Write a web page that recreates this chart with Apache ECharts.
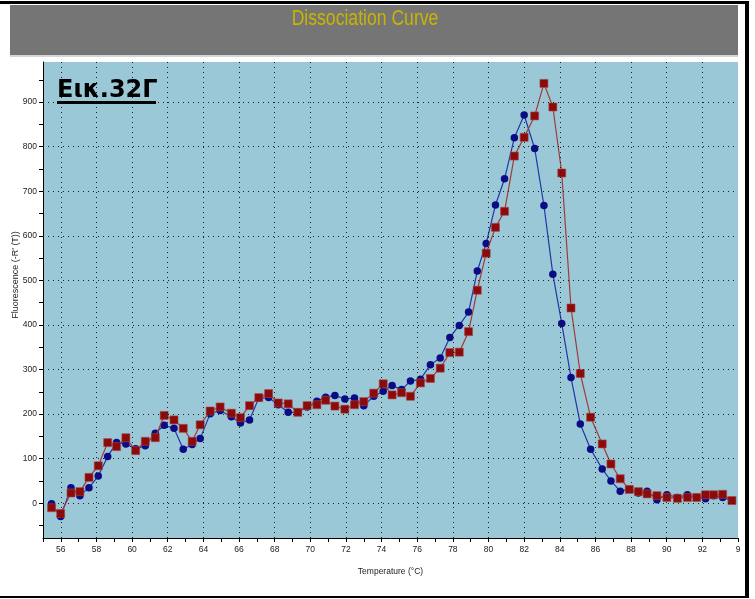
<!DOCTYPE html>
<html>
<head>
<meta charset="utf-8">
<script src="https://cdn.jsdelivr.net/npm/echarts@6/dist/echarts.min.js"></script>
<style>
html,body{margin:0;padding:0;background:#fff;}
#c{width:755px;height:599px;}
</style>
</head>
<body>
<div id="c"></div>
<script>
const temps = [55.48,55.99,56.57,57.07,57.58,58.10,58.63,59.13,59.65,60.20,
  60.74,61.30,61.80,62.35,62.87,63.37,63.82,64.38,64.94,65.57,
  66.08,66.59,67.11,67.66,68.20,68.76,69.30,69.82,70.37,70.86,
  71.38,71.94,72.48,73.00,73.56,74.09,74.59,75.12,75.62,76.18,
  76.74,77.29,77.83,78.36,78.88,79.37,79.87,80.39,80.90,81.45,
  82.00,82.59,83.11,83.61,84.11,84.63,85.15,85.73,86.38,86.87,
  87.39,87.90,88.41,88.90,89.45,90.01,90.60,91.16,91.68,92.18,
  92.63,93.14,93.66];
// Blue series (circles)
const blueValues = [-1,-30,35,17,35,61,105,136,133,122,
  129,157,175,168,121,132,145,201,208,194,
  180,187,236,237,221,204,204,216,229,238,
  242,234,236,219,240,251,264,255,274,278,
  311,326,372,399,429,521,583,669,728,820,
  871,796,668,514,403,282,178,121,77,50,
  27,31,23,27,8,19,13,19,13,10,
  17,13,6];
// Red series (squares)
const redValues = [-10,-23,23,26,58,84,136,127,147,118,
  139,147,197,187,168,139,176,207,216,202,
  192,219,237,246,225,223,204,219,221,231,
  218,211,221,228,247,268,243,248,240,270,
  280,303,338,339,385,478,561,619,655,779,
  821,869,942,889,741,438,291,193,133,88,
  55,31,26,21,17,13,11,13,13,19,
  19,20,6];
const xTickLabels = [56,58,60,62,64,66,68,70,72,74,76,78,80,82,84,86,88,90,92,94];
const xMinorTicks = [55,56,57,58,59,60,61,62,63,64,65,66,67,68,69,70,71,72,73,74,75,76,77,78,79,80,81,82,83,84,85,86,87,88,89,90,91,92,93,94];
const xGridValues = [56,58,60,62,64,66,68,70,72,74,76,78,80,82,84,86,88,90,92];
const yTickLabels = [0,100,200,300,400,500,600,700,800,900];
const yMinorTicks = [-50,0,50,100,150,200,250,300,350,400,450,500,550,600,650,700,750,800,850,900,950];
const titleText = 'Dissociation Curve';
const figLabel = 'Εικ.32Γ';
const xName = 'Temperature (°C)';
const yName = "Fluorescence (-R' (T))";

const blueData = temps.map((t,i)=>[t, blueValues[i]]);
const redData = temps.map((t,i)=>[t, redValues[i]]);
const gridLines = xGridValues.map(v=>({xAxis:v})).concat(yTickLabels.map(v=>({yAxis:v})));

const FONT = "'Liberation Sans',Arial,sans-serif";
const chart = echarts.init(document.getElementById('c'), null, {renderer:'canvas'});
chart.setOption({
  animation:false,
  backgroundColor:'#ffffff',
  grid:{left:43, top:62, width:695, height:476, show:true, backgroundColor:'#9bc8d7', borderWidth:0, outerBoundsMode:'none'},
  xAxis:{
    type:'value', min:55, max:94,
    axisLine:{show:true, onZero:false, lineStyle:{color:'#000', width:1}},
    axisTick:{show:true, customValues:xMinorTicks, length:4, lineStyle:{color:'#000'}},
    axisLabel:{customValues:xTickLabels, color:'#222', fontFamily:FONT, fontSize:8.5, margin:7,
      formatter:v=> v===94 ? '9' : String(v)},
    splitLine:{show:false},
    name:xName, nameLocation:'middle', nameGap:29,
    nameTextStyle:{color:'#222', fontFamily:FONT, fontSize:8.5}
  },
  yAxis:{
    type:'value', min:-78, max:990,
    axisLine:{show:true, onZero:false, lineStyle:{color:'#000', width:1}},
    axisTick:{show:true, customValues:yMinorTicks, length:4, lineStyle:{color:'#000'}},
    axisLabel:{customValues:yTickLabels, color:'#222', fontFamily:FONT, fontSize:8.5, margin:6},
    splitLine:{show:false}
  },
  series:[{
    type:'line', data:[], z:1, silent:true,
    markLine:{silent:true, symbol:['none','none'], label:{show:false},
      lineStyle:{color:'#1e1e1e', type:[1,4], width:1}, emphasis:{disabled:true},
      data:gridLines}
  },{
    type:'line', data:blueData,
    symbol:'circle', symbolSize:7.5,
    itemStyle:{color:'#0b0b85'},
    lineStyle:{color:'#2236a8', width:1.2},
    z:3
  },{
    type:'line', data:redData,
    symbol:'rect', symbolSize:8,
    itemStyle:{color:'#8c0a0a', borderColor:'#a44', borderWidth:0.6},
    lineStyle:{color:'#a03a3a', width:1.2},
    z:4
  }],
  graphic:[
    {type:'rect', shape:{x:10,y:5,width:728,height:50}, style:{fill:'#757575'}, z:-10},
    {type:'rect', shape:{x:10,y:55,width:728,height:2}, style:{fill:'#d6d6d6'}, z:-10},
    {type:'rect', shape:{x:0,y:1,width:749,height:3}, style:{fill:'#000'}, z:10},
    {type:'rect', shape:{x:745,y:1,width:4,height:597}, style:{fill:'#000'}, z:10},
    {type:'rect', shape:{x:0,y:596,width:749,height:2}, style:{fill:'#000'}, z:10},
    {type:'text', x:365, y:19, scaleX:0.8, style:{text:titleText, fill:'#c9b400', font:"22px "+FONT, align:'center', verticalAlign:'middle'}, z:10},
    {type:'text', x:57, y:91, style:{text:figLabel, fill:'#000', font:"bold 24px 'DejaVu Sans',sans-serif", align:'left', verticalAlign:'middle'}, z:10},
    {type:'rect', shape:{x:57,y:101,width:99,height:3}, style:{fill:'#000'}, z:10},
    {type:'text', x:16, y:275, rotation:Math.PI/2, style:{text:yName, fill:'#222', font:"9px "+FONT, align:'center', verticalAlign:'middle'}, z:10}
  ]
});
</script>
</body>
</html>
